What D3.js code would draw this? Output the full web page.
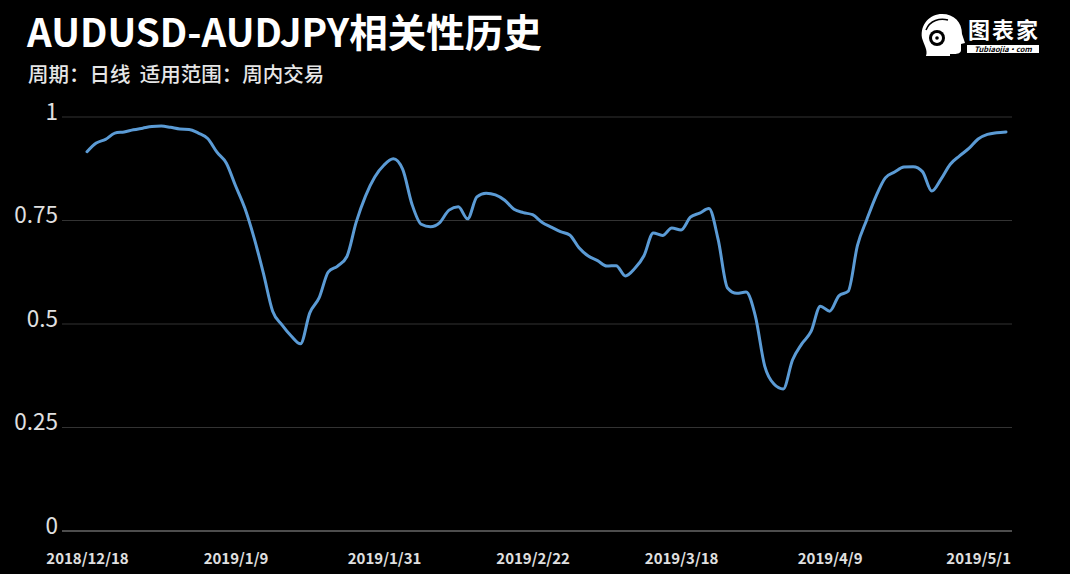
<!DOCTYPE html>
<html lang="zh">
  <head>
    <meta charset="UTF-8" />
    <title>AUDUSD-AUDJPY相关性历史</title>
    <style>
      body { margin: 0; background: #000; }
      svg text { font-family: "Noto Sans CJK SC", "Noto Sans", sans-serif; }
    </style>
  </head>
  <body>
    <svg id="chart" width="1070" height="574"></svg>

    <script src="https://cdn.jsdelivr.net/npm/d3@7"></script>
    <script>
      // trading days (weekdays) from 2018/12/18 to 2019/5/6
      const dates = [
        "2018/12/18", "2018/12/19", "2018/12/20", "2018/12/21", "2018/12/24",
        "2018/12/25", "2018/12/26", "2018/12/27", "2018/12/28", "2018/12/31",
        "2019/1/1", "2019/1/2", "2019/1/3", "2019/1/4", "2019/1/7",
        "2019/1/8", "2019/1/9", "2019/1/10", "2019/1/11", "2019/1/14",
        "2019/1/15", "2019/1/16", "2019/1/17", "2019/1/18", "2019/1/21",
        "2019/1/22", "2019/1/23", "2019/1/24", "2019/1/25", "2019/1/28",
        "2019/1/29", "2019/1/30", "2019/1/31", "2019/2/1", "2019/2/4",
        "2019/2/5", "2019/2/6", "2019/2/7", "2019/2/8", "2019/2/11",
        "2019/2/12", "2019/2/13", "2019/2/14", "2019/2/15", "2019/2/18",
        "2019/2/19", "2019/2/20", "2019/2/21", "2019/2/22", "2019/2/25",
        "2019/2/26", "2019/2/27", "2019/2/28", "2019/3/1", "2019/3/4",
        "2019/3/5", "2019/3/6", "2019/3/7", "2019/3/8", "2019/3/11",
        "2019/3/12", "2019/3/13", "2019/3/14", "2019/3/15", "2019/3/18",
        "2019/3/19", "2019/3/20", "2019/3/21", "2019/3/22", "2019/3/25",
        "2019/3/26", "2019/3/27", "2019/3/28", "2019/3/29", "2019/4/1",
        "2019/4/2", "2019/4/3", "2019/4/4", "2019/4/5", "2019/4/8",
        "2019/4/9", "2019/4/10", "2019/4/11", "2019/4/12", "2019/4/15",
        "2019/4/16", "2019/4/17", "2019/4/18", "2019/4/19", "2019/4/22",
        "2019/4/23", "2019/4/24", "2019/4/25", "2019/4/26", "2019/4/29",
        "2019/4/30", "2019/5/1", "2019/5/2", "2019/5/3", "2019/5/6"
      ];

      // correlation values
      const correlation = [
        0.916, 0.937, 0.946, 0.961, 0.964, 0.969, 0.973, 0.977, 0.978, 0.975,
        0.971, 0.970, 0.961, 0.948, 0.915, 0.889, 0.834, 0.780, 0.708, 0.623,
        0.531, 0.498, 0.471, 0.452, 0.527, 0.563, 0.626, 0.640, 0.663, 0.746,
        0.809, 0.855, 0.884, 0.899, 0.874, 0.790, 0.741, 0.735, 0.745, 0.775,
        0.783, 0.754, 0.807, 0.816, 0.812, 0.799, 0.777, 0.769, 0.764, 0.746,
        0.734, 0.723, 0.715, 0.684, 0.664, 0.653, 0.640, 0.641, 0.616, 0.634,
        0.665, 0.720, 0.714, 0.732, 0.727, 0.758, 0.768, 0.779, 0.703, 0.587,
        0.574, 0.577, 0.519, 0.399, 0.355, 0.343, 0.413, 0.452, 0.482, 0.543,
        0.531, 0.568, 0.579, 0.690, 0.752, 0.809, 0.853, 0.867, 0.879, 0.880,
        0.868, 0.821, 0.850, 0.886, 0.906, 0.924, 0.947, 0.958, 0.962, 0.964
      ];

      const xTickLabels = ["2018/12/18", "2019/1/9", "2019/1/31", "2019/2/22", "2019/3/18", "2019/4/9", "2019/5/1"];
      const yTicks = [0, 0.25, 0.5, 0.75, 1];

      const svg = d3.select("#chart");
      const plotLeft = 62, plotRight = 1012;

      const x = d3.scalePoint().domain(dates).range([87, 1006]);
      const y = d3.scaleLinear().domain([0, 1]).range([531, 117]);

      // background
      svg.append("rect").attr("width", 1070).attr("height", 574).attr("fill", "#000");

      // title
      svg.append("text")
        .attr("x", 27).attr("y", 46.5)
        .attr("fill", "#fff")
        .attr("font-size", 38.5)
        .attr("font-weight", "bold")
        .text("AUDUSD-AUDJPY相关性历史");

      svg.append("text")
        .attr("x", 28).attr("y", 82)
        .attr("fill", "#e6e6e6")
        .attr("font-size", 20.5)
        .attr("font-weight", 500)
        .text("周期：日线\u00a0\u00a0适用范围：周内交易");

      // logo (simplified)
      const logo = svg.append("g").attr("transform", "translate(918,12)");
      logo.append("path")
        .attr("d", "M4,26 C2,12 12,2 24,2 C36,2 44,10 44,22 L47,31 L43,32 L43,38 C43,41 40,42 36,42 L32,42 L32,44 L8,44 C10,38 6,33 4,26 Z")
        .attr("fill", "#fff");
      logo.append("circle").attr("cx", 19).attr("cy", 26).attr("r", 8).attr("fill", "#000");
      logo.append("circle").attr("cx", 19).attr("cy", 26).attr("r", 5).attr("fill", "#fff");
      logo.append("circle").attr("cx", 19).attr("cy", 26).attr("r", 1.8).attr("fill", "#000");
      logo.append("path")
        .attr("d", "M8,18 C12,8 22,6 30,8")
        .attr("fill", "none").attr("stroke", "#000").attr("stroke-width", 1.5);
      svg.append("text")
        .attr("x", 968).attr("y", 38)
        .attr("fill", "#fff")
        .attr("font-size", 22)
        .attr("font-weight", "bold")
        .attr("textLength", 70)
        .text("图表家");
      svg.append("rect")
        .attr("x", 967).attr("y", 45).attr("width", 72).attr("height", 8)
        .attr("fill", "#fff");
      svg.append("text")
        .attr("x", 1003).attr("y", 52)
        .attr("text-anchor", "middle")
        .attr("fill", "#000")
        .attr("font-size", 7.5)
        .attr("font-weight", "bold")
        .attr("font-style", "italic")
        .text("Tubiaojia·com");

      // grid lines
      svg.append("g")
        .selectAll("line")
        .data(yTicks.filter((d) => d > 0))
        .join("line")
        .attr("x1", plotLeft).attr("x2", plotRight)
        .attr("y1", (d) => y(d)).attr("y2", (d) => y(d))
        .attr("stroke", "#333")
        .attr("stroke-width", 1);

      // zero baseline
      svg.append("line")
        .attr("x1", plotLeft).attr("x2", plotRight)
        .attr("y1", y(0)).attr("y2", y(0))
        .attr("stroke", "#4d4d4d")
        .attr("stroke-width", 2);

      // y axis labels
      const yAxis = svg.append("g")
        .attr("transform", `translate(58,0)`)
        .call(d3.axisLeft(y).tickValues(yTicks).tickSize(0).tickPadding(0).tickFormat(d3.format("")));
      yAxis.select(".domain").remove();
      yAxis.selectAll("text")
        .attr("fill", "#e0e0e0")
        .attr("font-size", 22.5)
        .attr("dy", "0.1em")
        .style("font-family", "'Noto Sans CJK SC', sans-serif");

      // x axis labels
      const xAxis = svg.append("g")
        .attr("transform", `translate(0,${y(0)})`)
        .call(d3.axisBottom(x).tickValues(xTickLabels).tickSize(0).tickPadding(22));
      xAxis.select(".domain").remove();
      xAxis.selectAll("text")
        .attr("fill", "#e0e0e0")
        .attr("font-size", 15)
        .attr("font-weight", "bold")
        .style("font-family", "'Noto Sans CJK SC', sans-serif");

      // line
      const line = d3.line()
        .x((d, i) => x(dates[i]))
        .y((d) => y(d))
        .curve(d3.curveMonotoneX);

      svg.append("path")
        .datum(correlation)
        .attr("fill", "none")
        .attr("stroke", "#5b9bd5")
        .attr("stroke-width", 3)
        .attr("stroke-linejoin", "round")
        .attr("stroke-linecap", "round")
        .attr("d", line);
    </script>
  </body>
</html>
